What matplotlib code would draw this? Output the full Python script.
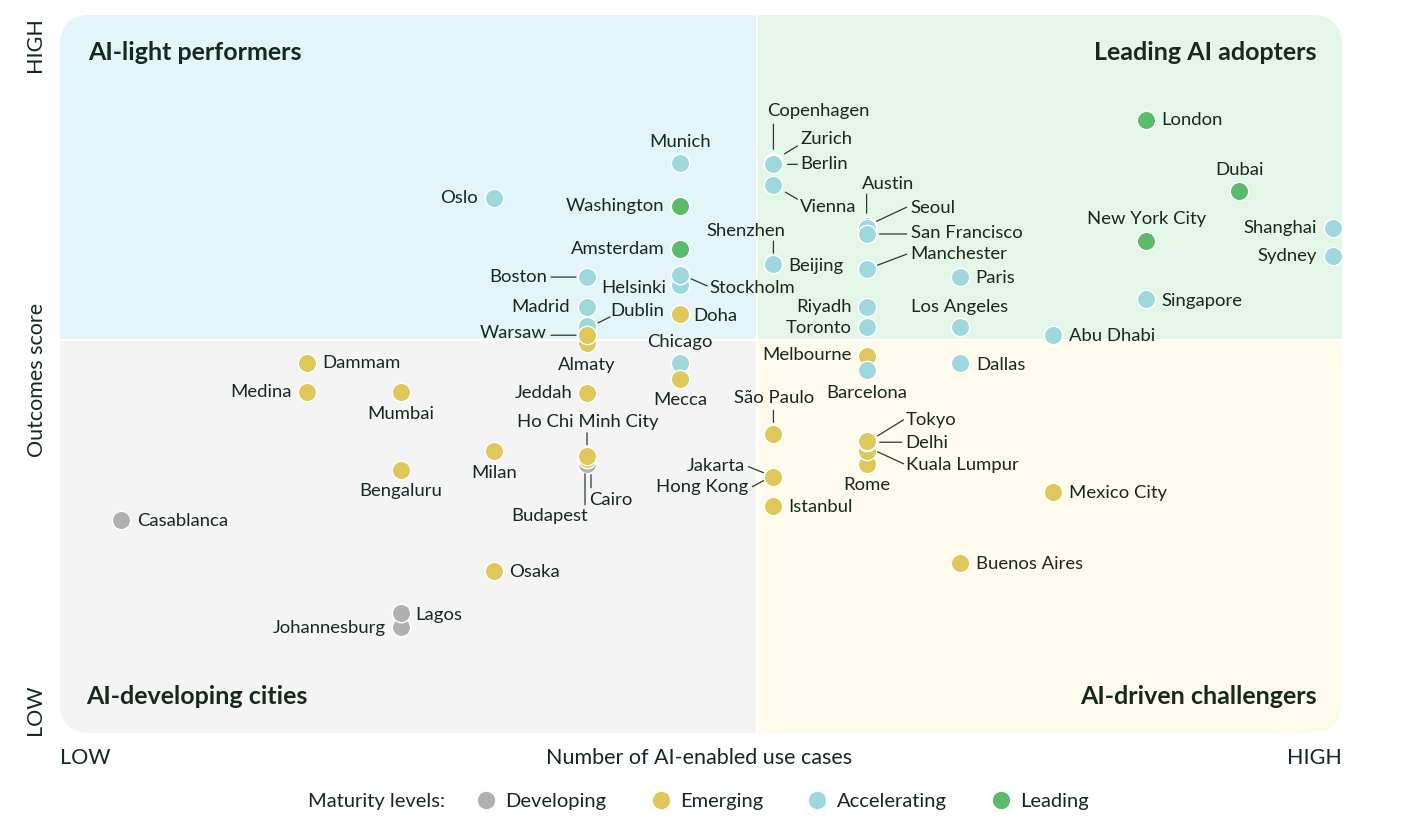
import matplotlib
matplotlib.use("Agg")
import matplotlib.pyplot as plt
from matplotlib.patches import Rectangle, FancyBboxPatch
from matplotlib.lines import Line2D
from matplotlib.transforms import offset_copy

plt.rcParams["font.family"] = ["Lato", "DejaVu Sans"]

# ---- data (x = use-case level, y = outcomes score) ----
cities = [
    "London", "Dubai", "New York City", "Washington", "Amsterdam",
    "Shanghai", "Sydney", "Singapore", "Abu Dhabi", "Paris", "Los Angeles", "Dallas",
    "Munich", "Oslo", "Boston", "Helsinki", "Stockholm", "Madrid", "Dublin",
    "Almaty", "Warsaw", "Chicago", "Copenhagen", "Zurich", "Berlin", "Vienna",
    "Shenzhen", "Beijing", "Austin", "Seoul", "San Francisco", "Manchester",
    "Riyadh", "Toronto", "Melbourne", "Barcelona",
    "Mexico City", "Buenos Aires", "Doha", "Mecca", "São Paulo", "Jakarta",
    "Hong Kong", "Istanbul", "Rome", "Kuala Lumpur", "Delhi", "Tokyo",
    "Dammam", "Medina", "Mumbai", "Jeddah", "Cairo", "Budapest", "Ho Chi Minh City",
    "Milan", "Bengaluru", "Osaka", "Casablanca", "Johannesburg", "Lagos",
]
use_cases = [
    11, 12, 11, 6, 6,
    13, 13, 11, 10, 9, 9, 9,
    6, 4, 5, 6, 6, 5, 5,
    5, 5, 6, 7, 7, 7, 7,
    7, 7, 8, 8, 8, 8,
    8, 8, 8, 8,
    10, 9, 6, 6, 7, 7,
    7, 7, 8, 8, 8, 8,
    2, 2, 3, 5, 5, 5, 5,
    4, 3, 4, 0, 3, 3,
]
outcomes = [
    85.4, 75.5, 68.5, 73.4, 67.4,
    70.3, 66.4, 60.4, 55.4, 63.5, 56.5, 51.5,
    79.4, 74.5, 63.5, 62.4, 63.8, 59.3, 56.7,
    54.3, 55.4, 51.5, 79.5, 79.4, 79.2, 76.3,
    65.3, 65.3, 70.6, 70.3, 69.5, 64.6,
    59.3, 56.5, 52.5, 50.6,
    33.6, 23.7, 58.4, 49.3, 41.6, 35.7,
    35.7, 31.6, 37.5, 39.3, 40.5, 40.7,
    51.5, 47.5, 47.5, 47.4, 37.5, 38.2, 38.6,
    39.3, 36.6, 22.6, 29.7, 14.8, 16.7,
]
maturity = [
    "Leading", "Leading", "Leading", "Leading", "Leading",
    "Accelerating", "Accelerating", "Accelerating", "Accelerating", "Accelerating",
    "Accelerating", "Accelerating",
    "Accelerating", "Accelerating", "Accelerating", "Accelerating", "Accelerating",
    "Accelerating", "Accelerating",
    "Emerging", "Emerging", "Accelerating", "Accelerating", "Accelerating",
    "Accelerating", "Accelerating",
    "Accelerating", "Accelerating", "Accelerating", "Accelerating", "Accelerating",
    "Accelerating",
    "Accelerating", "Accelerating", "Emerging", "Accelerating",
    "Emerging", "Emerging", "Emerging", "Emerging", "Emerging", "Emerging",
    "Emerging", "Emerging", "Emerging", "Emerging", "Emerging", "Emerging",
    "Emerging", "Emerging", "Emerging", "Emerging", "Developing", "Emerging", "Emerging",
    "Emerging", "Emerging", "Emerging", "Developing", "Developing", "Developing",
]
levels = ["Developing", "Emerging", "Accelerating", "Leading"]
quadrant_titles = ["AI-light performers", "Leading AI adopters",
                   "AI-developing cities", "AI-driven challengers"]

X_SPLIT = 6.82
Y_SPLIT = 54.7
XLIM = (-0.654, 13.10)
YLIM = (0, 100)

# ---- styling ----
COLORS = {"Developing": "#b0b0b0", "Emerging": "#dfc75b",
          "Accelerating": "#9fd8dc", "Leading": "#5cba6b"}
TXT = "#17291d"
LINE = "#2a3a30"
LABEL_SIZE = 13.3

# label offsets in pixels (dx, dy downwards), alignment, optional leader line
LBL = {
    "London": (15, 0, "left", None),
    "Dubai": (0, -21, "center", None),
    "New York City": (0, -22, "center", None),
    "Shanghai": (-16, 0, "right", None),
    "Sydney": (-16, 0, "right", None),
    "Singapore": (15, 2, "left", None),
    "Abu Dhabi": (16, 1, "left", None),
    "Paris": (15, 1, "left", None),
    "Los Angeles": (0, -20, "center", None),
    "Dallas": (16, 2, "left", None),
    "Mexico City": (16, 1, "left", None),
    "Buenos Aires": (16, 1, "left", None),
    "Munich": (0, -21, "center", None),
    "Oslo": (-16, 0, "right", None),
    "Washington": (-16, 0, "right", None),
    "Amsterdam": (-16, 0, "right", None),
    "Boston": (-40, 0, "right", (-36, 0, -11, 0)),
    "Stockholm": (29, 13, "left", (11, 4, 27, 11)),
    "Helsinki": (-14, 3, "right", None),
    "Madrid": (-17, 0, "right", None),
    "Dublin": (23, -15, "left", (11, -3, 23, -9)),
    "Warsaw": (-40, -2, "right", (-36, 0, -11, 0)),
    "Almaty": (0, 22, "center", None),
    "Doha": (13, 2, "left", None),
    "Chicago": (0, -21, "center", None),
    "Mecca": (0, 21, "center", None),
    "Copenhagen": (-6, -51, "left", (0, -38, 0, -13)),
    "Zurich": (27, -24, "left", (11, -9, 24, -17)),
    "Berlin": (27, 0, "left", (14, 0, 24, 0)),
    "Vienna": (27, 22, "left", (12, 7, 24, 14)),
    "Shenzhen": (-28, -33, "center", (0, -23, 0, -11)),
    "Beijing": (15, 2, "left", None),
    "Austin": (21, -42, "center", (0, -32, 0, -13)),
    "Seoul": (44, -20, "left", (10, -7, 40, -21)),
    "San Francisco": (44, -1, "left", (13, 0, 40, 0)),
    "Manchester": (44, -15, "left", (11, -4, 40, -15)),
    "Riyadh": (-15, 0, "right", None),
    "Toronto": (-15, 1, "right", None),
    "Melbourne": (-15, -1, "right", None),
    "Barcelona": (0, 23, "center", None),
    "São Paulo": (1, -36, "center", (0, -24, 0, -12)),
    "Jakarta": (-28, -11, "right", (-25, -10, -10, -4)),
    "Hong Kong": (-25, 10, "right", (-21, 10, -10, 4)),
    "Istanbul": (15, 1, "left", None),
    "Tokyo": (39, -21, "left", (11, -5, 37, -21)),
    "Delhi": (39, 1, "left", (13, 0, 35, 0)),
    "Kuala Lumpur": (39, 14, "left", (11, 1, 37, 13)),
    "Rome": (0, 21, "center", None),
    "Dammam": (15, 0, "left", None),
    "Medina": (-16, 0, "right", None),
    "Mumbai": (0, 22, "center", None),
    "Jeddah": (-15, 0, "right", None),
    "Ho Chi Minh City": (1, -34, "center", (0, -23, 0, -11)),
    "Cairo": (2, 36, "left", (4, 11, 4, 24)),
    "Budapest": (1, 57, "right", (-2, 15, -2, 46)),
    "Milan": (0, 22, "center", None),
    "Bengaluru": (0, 21, "center", None),
    "Osaka": (15, 1, "left", None),
    "Casablanca": (16, 1, "left", None),
    "Lagos": (15, 2, "left", None),
    "Johannesburg": (-15, 1, "right", None),
}

W, H = 1426, 832
fig = plt.figure(figsize=(W / 100, H / 100), dpi=100)
ax_l, ax_b, ax_w, ax_h = 60, 99, 1282, 718
ax = fig.add_axes([ax_l / W, ax_b / H, ax_w / W, ax_h / H])
ax.set_xlim(*XLIM)
ax.set_ylim(*YLIM)
ax.axis("off")

# rounded panel with four tinted quadrants
r = 30 / ax_w
clip = FancyBboxPatch((0, 0), 1, 1, boxstyle=f"round,pad=0,rounding_size={r}",
                      mutation_aspect=ax_w / ax_h, transform=ax.transAxes,
                      facecolor="none", edgecolor="none")
ax.add_patch(clip)
quads = [
    (XLIM[0], Y_SPLIT, X_SPLIT - XLIM[0], YLIM[1] - Y_SPLIT, "#e3f5f8"),
    (X_SPLIT, Y_SPLIT, XLIM[1] - X_SPLIT, YLIM[1] - Y_SPLIT, "#e4f6e7"),
    (XLIM[0], YLIM[0], X_SPLIT - XLIM[0], Y_SPLIT - YLIM[0], "#f4f4f4"),
    (X_SPLIT, YLIM[0], XLIM[1] - X_SPLIT, Y_SPLIT - YLIM[0], "#fefbec"),
]
for qx, qy, qw, qh, qc in quads:
    p = Rectangle((qx, qy), qw, qh, facecolor=qc, edgecolor="none", zorder=0)
    ax.add_patch(p)
    p.set_clip_path(clip)
ax.axvline(X_SPLIT, color="white", lw=1.6, zorder=1)
ax.axhline(Y_SPLIT, color="white", lw=1.6, zorder=1)

qfont = dict(fontsize=18, fontweight="bold", color=TXT)
ax.text(28 / ax_w, 1 - 37 / ax_h, quadrant_titles[0], transform=ax.transAxes,
        ha="left", va="center", **qfont)
ax.text(1 - 25 / ax_w, 1 - 37 / ax_h, quadrant_titles[1], transform=ax.transAxes,
        ha="right", va="center", **qfont)
ax.text(26 / ax_w, 37 / ax_h, quadrant_titles[2], transform=ax.transAxes,
        ha="left", va="center", **qfont)
ax.text(1 - 25 / ax_w, 37 / ax_h, quadrant_titles[3], transform=ax.transAxes,
        ha="right", va="center", **qfont)

# points
for i, name in enumerate(cities):
    ax.scatter(use_cases[i], outcomes[i], s=175, color=COLORS[maturity[i]],
               edgecolor="white", linewidth=1.0, zorder=3 + i * 0.01)

# labels and leader lines
for i, name in enumerate(cities):
    dx, dy, ha, line = LBL[name]
    x, y = use_cases[i], outcomes[i]
    tr = offset_copy(ax.transData, fig=fig, x=dx, y=-dy, units="dots")
    ax.text(x, y, name, transform=tr, ha=ha, va="center", fontsize=LABEL_SIZE,
            color=TXT, zorder=5)
    if line:
        x0, y0, x1, y1 = line
        t0 = offset_copy(ax.transData, fig=fig, x=x0, y=-y0, units="dots")
        t1 = offset_copy(ax.transData, fig=fig, x=x1, y=-y1, units="dots")
        ax.annotate("", xy=(x, y), xycoords=t0, xytext=(x, y), textcoords=t1,
                    arrowprops=dict(arrowstyle="-", color=LINE, lw=0.9,
                                    shrinkA=0, shrinkB=0), zorder=4)

# axis annotations
afont = dict(fontsize=15.5, color=TXT)
fig.text(35 / W, 1 - 45 / H, "HIGH", rotation=90, ha="center", va="center", **afont)
fig.text(35 / W, 1 - 710 / H, "LOW", rotation=90, ha="center", va="center", **afont)
fig.text(37 / W, 1 - 380 / H, "Outcomes score", rotation=90, ha="center", va="center", **afont)
fig.text(60 / W, 1 - 758 / H, "LOW", ha="left", va="center", **afont)
fig.text(1342 / W, 1 - 758 / H, "HIGH", ha="right", va="center", **afont)
fig.text(699 / W, 1 - 758 / H, "Number of AI-enabled use cases", ha="center", va="center", **afont)

# legend
lfont = 14.5
fig.text(308 / W, 1 - 801 / H, "Maturity levels:", ha="left", va="center",
         fontsize=lfont, color=TXT)
handles = [Line2D([], [], marker="o", linestyle="none", markersize=13.5,
                  markerfacecolor=COLORS[lv], markeredgecolor="white") for lv in levels]
fig.legend(handles, levels, ncol=4, loc="center left",
           bbox_to_anchor=(476 / W, 1 - 801 / H), frameon=False,
           fontsize=lfont, handlelength=1.0, handletextpad=0.45, columnspacing=2.2,
           labelcolor=TXT, borderaxespad=0, borderpad=0)

fig.savefig("out.png", dpi=100, facecolor="white")
